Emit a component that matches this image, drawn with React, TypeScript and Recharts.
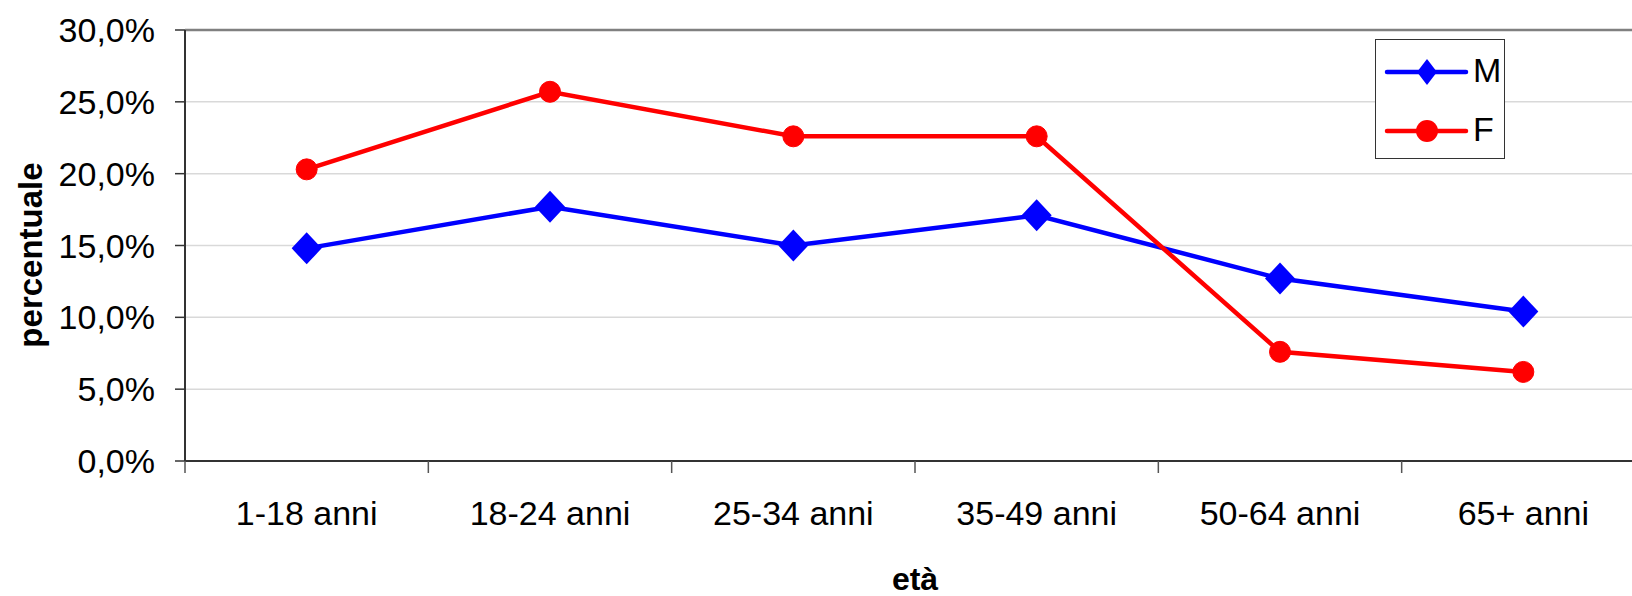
import { LineChart, Line, XAxis, YAxis, CartesianGrid, ReferenceLine } from 'recharts'

// age groups on the x axis
const AGE_GROUPS = ['1-18 anni', '18-24 anni', '25-34 anni', '35-49 anni', '50-64 anni', '65+ anni']
// percentages per group
const MALE = [14.8, 17.7, 15.0, 17.1, 12.7, 10.4]
const FEMALE = [20.3, 25.7, 22.6, 22.6, 7.6, 6.2]
const Y_TICKS = [0, 5, 10, 15, 20, 25, 30]
// whole numbers = category boundaries (tick marks), halves = category centres (labels)
const X_TICKS = [0, 0.5, 1, 1.5, 2, 2.5, 3, 3.5, 4, 4.5, 5, 5.5, 6]

const FONT = '"Liberation Sans", Arial, sans-serif'

const rows = AGE_GROUPS.map((age, i) => ({ age, pos: i + 0.5, M: MALE[i], F: FEMALE[i] }))

const formatPct = (v: number) => v.toFixed(1).replace('.', ',') + '%'

// diamond marker for the M series
const Diamond = (props: any) => {
  const { cx, cy, index } = props
  if (cx == null || cy == null) return null
  return (
    <polygon
      key={`d-${index}`}
      points={`${cx},${cy - 16} ${cx + 15},${cy} ${cx},${cy + 16} ${cx - 15},${cy}`}
      fill="#0000ff"
    />
  )
}

// boundary tick marks and centred category labels
const AgeTick = (props: any) => {
  const { x, y, payload } = props
  const v = payload.value
  if (Number.isInteger(v)) {
    return <line x1={x} y1={y} x2={x} y2={y + 12} stroke="#555" strokeWidth={1.5} />
  }
  return (
    <text x={x} y={y + 40} dy="0.71em" textAnchor="middle" fontFamily={FONT} fontSize={34} fill="#000">
      {AGE_GROUPS[Math.floor(v)]}
    </text>
  )
}

const LegendBox = () => (
  <div
    style={{
      position: 'absolute',
      left: 1375,
      top: 39,
      width: 130,
      height: 120,
      border: '1px solid #333',
      boxSizing: 'border-box',
      background: '#fff'
    }}
  >
    <svg width={128} height={118} style={{ position: 'absolute', left: 0, top: 0 }}>
      <line x1={11} y1={32} x2={90} y2={32} stroke="#0000ff" strokeWidth={4.5} strokeLinecap="round" />
      <polygon points="51,19 61,32 51,45 41,32" fill="#0000ff" />
      <text x={97} y={42} fontFamily={FONT} fontSize={34} fill="#000">M</text>
      <line x1={11} y1={91} x2={90} y2={91} stroke="#ff0000" strokeWidth={4.5} strokeLinecap="round" />
      <circle cx={51} cy={91} r={11} fill="#ff0000" />
      <text x={97} y={101} fontFamily={FONT} fontSize={34} fill="#000">F</text>
    </svg>
  </div>
)

export default function App() {
  return (
    <div
      style={{
        position: 'fixed',
        left: 0,
        top: 0,
        width: 1632,
        height: 596,
        overflow: 'hidden',
        background: '#fff',
        fontFamily: FONT
      }}
    >
      <LineChart
        width={1650}
        height={596}
        data={rows}
        margin={{ top: 30, right: 5, left: 184, bottom: 134 }}
      >
        <CartesianGrid vertical={false} stroke="#d9d9d9" strokeWidth={1.5} />
        <XAxis
          type="number"
          dataKey="pos"
          domain={[0, 6]}
          ticks={X_TICKS}
          interval={0}
          allowDataOverflow
          height={1}
          axisLine={{ stroke: '#333', strokeWidth: 2 }}
          tickLine={false}
          tickSize={0}
          tickMargin={0}
          tick={<AgeTick />}
        />
        <YAxis
          width={1}
          domain={[0, 30]}
          ticks={Y_TICKS}
          tickFormatter={formatPct}
          axisLine={{ stroke: '#333', strokeWidth: 2 }}
          tickLine={{ stroke: '#333', strokeWidth: 1.5 }}
          tickSize={10}
          tickMargin={20}
          tick={{ fill: '#000', fontSize: 34, fontFamily: FONT }}
        />
        <ReferenceLine y={30} stroke="#808080" strokeWidth={2.5} />
        <Line
          type="linear"
          dataKey="M"
          stroke="#0000ff"
          strokeWidth={4.5}
          dot={Diamond}
          activeDot={false}
          isAnimationActive={false}
        />
        <Line
          type="linear"
          dataKey="F"
          stroke="#ff0000"
          strokeWidth={4.5}
          dot={{ r: 10.5, fill: '#ff0000', stroke: '#ff0000', strokeWidth: 1 }}
          activeDot={false}
          isAnimationActive={false}
        />
      </LineChart>
      <svg width={1632} height={596} style={{ position: 'absolute', left: 0, top: 0, pointerEvents: 'none' }}>
        <text
          x={0}
          y={0}
          transform="translate(42,255) rotate(-90)"
          textAnchor="middle"
          fontFamily={FONT}
          fontWeight="bold"
          fontSize={33}
          fill="#000"
        >
          percentuale
        </text>
        <text x={915} y={590} textAnchor="middle" fontFamily={FONT} fontWeight="bold" fontSize={32} fill="#000">
          età
        </text>
      </svg>
      <LegendBox />
    </div>
  )
}
